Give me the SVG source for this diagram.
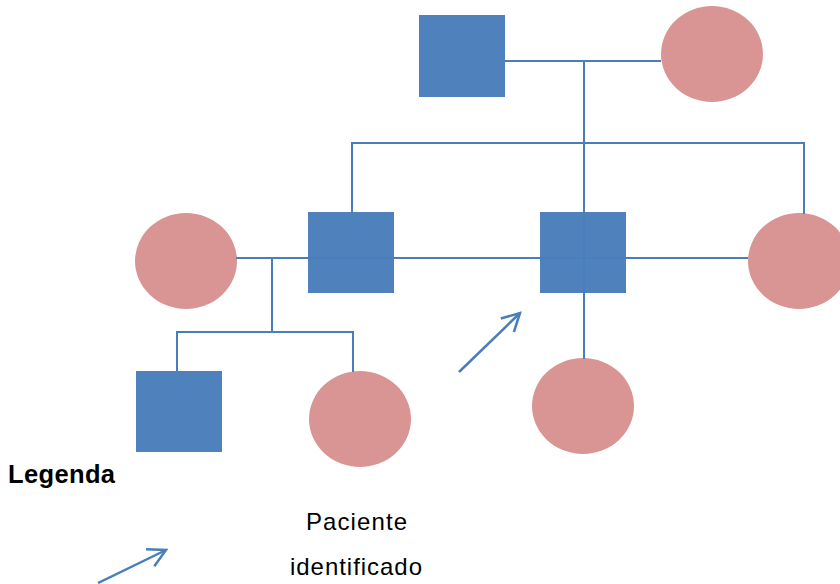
<svg xmlns="http://www.w3.org/2000/svg" width="840" height="584" viewBox="0 0 840 584">
<style>
.m{fill:#4f81bd;}
.f{fill:#d99594;}
.c{fill:none;stroke:#4a7ebb;stroke-width:2;}
.a{fill:none;stroke:#4a7ebb;stroke-width:2.5;}
.t{font-family:"Liberation Sans",Arial,sans-serif;font-size:24px;fill:#000;}
.b{font-family:"Liberation Sans",Arial,sans-serif;font-size:25.5px;font-weight:bold;fill:#000;}
</style>
<defs>
<marker id="arr" markerUnits="userSpaceOnUse" viewBox="-22 -12 26 24" markerWidth="26" markerHeight="24" refX="0" refY="0" orient="auto">
<path d="M-17.6,-9.4 L0,0 L-17.6,9.4" fill="none" stroke="#4a7ebb" stroke-width="2.5"/>
</marker>
</defs>
<rect width="840" height="584" fill="#fff"/>
<g id="n-grandfather"><rect class="m" x="419" y="15" width="86" height="82"/></g>
<g id="n-grandmother"><ellipse class="f" cx="712" cy="54" rx="51" ry="48"/></g>
<g id="n-wife-left"><ellipse class="f" cx="186" cy="261" rx="51" ry="48"/></g>
<g id="n-son-left"><rect class="m" x="308" y="212" width="86" height="81"/></g>
<g id="n-patient"><rect class="m" x="540" y="212" width="86" height="81"/></g>
<g id="n-daughter-right"><ellipse class="f" cx="799" cy="261" rx="51" ry="48"/></g>
<g id="n-grandson"><rect class="m" x="136" y="371" width="86" height="81"/></g>
<g id="n-granddaughter"><ellipse class="f" cx="360" cy="419" rx="51" ry="48"/></g>
<g id="n-patient-child"><ellipse class="f" cx="583" cy="406" rx="51" ry="48"/></g>
<g id="connectors">
<path class="c" d="M505,61 H661"/>
<path class="c" d="M584,61 V359"/>
<path class="c" d="M352,212 V143 H804 V214"/>
<path class="c" d="M236,258 H748"/>
<path class="c" d="M272,258 V332"/>
<path class="c" d="M177,371 V332 H353 V372"/>
<path class="a" d="M459,372 L520,313" marker-end="url(#arr)"/>
<path class="a" d="M98,583 L166,550" marker-end="url(#arr)"/>
</g>
<g id="legend">
<text class="b" x="8" y="483" textLength="107">Legenda</text>
<text class="t" x="306" y="530" textLength="101">Paciente</text>
<text class="t" x="290" y="575" textLength="132">identificado</text>
</g>
</svg>
